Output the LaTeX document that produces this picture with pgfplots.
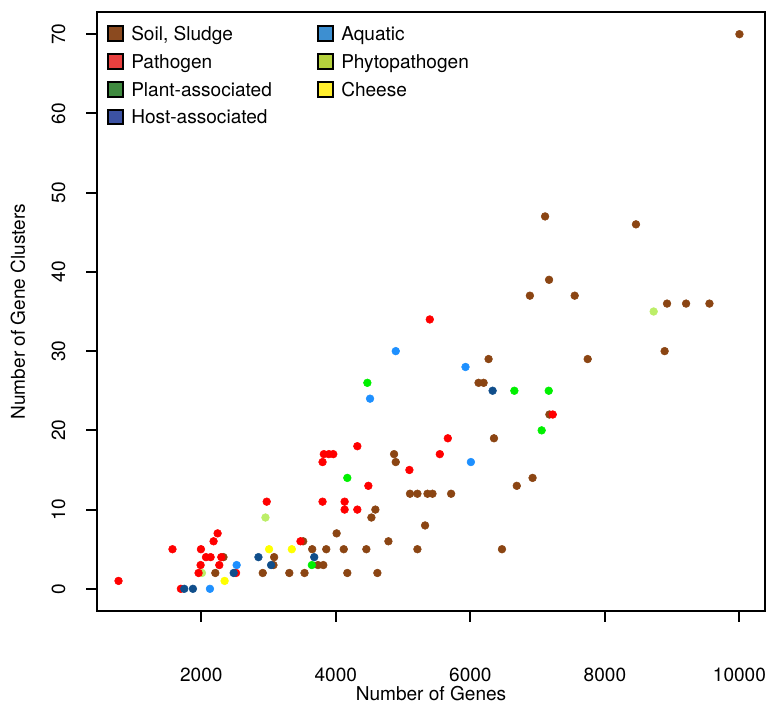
\documentclass[border=0pt]{standalone}
\usepackage{fontspec}
\setmainfont{TeX Gyre Heros}
\usepackage{pgfplots}
\pgfplotsset{compat=1.18}
\usetikzlibrary{calc}

% point colours
\definecolor{soil}{HTML}{8B4513}
\definecolor{patho}{HTML}{FF0000}
\definecolor{plant}{HTML}{00F000}
\definecolor{host}{HTML}{104E8B}
\definecolor{aqua}{HTML}{1E90FF}
\definecolor{phyto}{HTML}{BCEE68}
\definecolor{cheese}{HTML}{FFFF00}
% legend colours
\definecolor{lsoil}{HTML}{8B4A1F}
\definecolor{lpatho}{HTML}{E8403F}
\definecolor{lplant}{HTML}{3F8A3F}
\definecolor{lhost}{HTML}{3C52A3}
\definecolor{laqua}{HTML}{3D8FD1}
\definecolor{lphyto}{HTML}{B6D23D}
\definecolor{lcheese}{HTML}{FFEE2E}

\newcommand{\rfont}{\fontsize{14.3}{16}\selectfont}

\begin{document}
\begin{tikzpicture}
\begin{axis}[
    scale only axis,
    width=501pt, height=449.25pt,
    xmin=450, xmax=10380,
    ymin=-2.8, ymax=72.8,
    xtick={2000,4000,6000,8000,10000},
    ytick={0,10,...,70},
    xtick pos=bottom, ytick pos=left,
    tick align=outside,
    major tick length=8pt,
    tick style={line width=1.5pt, black},
    axis line style={line width=1.5pt},
    scaled x ticks=false,
    /pgf/number format/assume math mode=true,
    /pgf/number format/1000 sep={},
    ticklabel style={font=\rfont, inner sep=0pt},
    xticklabel style={anchor=north},
    xticklabel shift=34.5pt,
    yticklabel style={rotate=90, anchor=south},
    yticklabel shift=15.5pt,
    label style={font=\rfont, inner sep=0pt},
    xlabel={Number of Genes},
    ylabel={Number of Gene Clusters},
    xlabel style={at={(axis description cs:0.5,-0.1375)}, anchor=center},
    ylabel style={at={(axis description cs:-0.1183,0.5)}, anchor=center},
    legend columns=2,
    legend cell align=left,
    legend image code/.code={\draw[#1, line width=1.5pt] (0pt,-5.5pt) rectangle (11pt,5.5pt);},
    legend style={at={(axis description cs:0,1)}, anchor=north west,
        xshift=7.5pt, yshift=-9pt, draw=none, fill=none, inner sep=0pt,
        font=\rfont, row sep=6.85pt, column sep=0pt,
        nodes={inner sep=0pt, text height=12.15pt, text depth=1.85pt},
        /tikz/every odd column/.append style={column sep=5.5pt}},
    every axis plot/.append style={only marks, mark=*, mark size=2.9pt, forget plot},
]
\addplot[color=phyto] coordinates {
    (2010,2) (2954,9) (8725,35)
};
\addplot[color=soil] coordinates {
    (10000,70) (7111,47) (8462,46) (7170,39) (6885,37) (7551,37)
    (8924,36) (9207,36) (9554,36) (8888,30) (6271,29) (7744,29)
    (6122,26) (6197,26) (7175,22) (6351,19) (4866,17) (4891,16)
    (6925,14) (6690,13) (5103,12) (5213,12) (5363,12) (5437,12)
    (5714,12) (4588,10) (4529,9) (5327,8) (4012,7) (3515,6)
    (4782,6) (3649,5) (3858,5) (4118,5) (4454,5) (5213,5)
    (6470,5) (2330,4) (3083,4) (3073,3) (3735,3) (3814,3)
    (2209,2) (2914,2) (3309,2) (3535,2) (4171,2) (4618,2)
};
\addplot[color=patho] coordinates {
    (770,1) (1697,0) (1960,2) (2517,2) (1990,3) (2268,3)
    (2070,4) (2139,4) (2298,4) (1572,5) (1995,5) (2183,6)
    (3475,6) (2243,7) (4131,10) (4320,10) (2973,11) (3803,11)
    (4131,11) (4484,13) (5094,15) (3803,16) (3822,17) (3897,17)
    (3962,17) (5546,17) (4320,18) (5665,19) (7225,22) (5397,34)
};
\addplot[color=plant] coordinates {
    (3644,3) (4171,14) (4469,26) (6654,25) (7165,25) (7060,20)
};
\addplot[color=aqua] coordinates {
    (2129,0) (2526,3) (4509,24) (4891,30) (5928,28) (6008,16)
};
\addplot[color=host] coordinates {
    (1747,0) (1876,0) (2482,2) (3038,3) (2850,4) (3679,4) (6331,25)
};
\addplot[color=cheese] coordinates {
    (2347,1) (3008,5) (3346,5)
};

\addlegendimage{draw=black, fill=lsoil}
\addlegendentry{\makebox[139.5pt][l]{Soil, Sludge}}
\addlegendimage{draw=black, fill=laqua}
\addlegendentry{Aquatic}
\addlegendimage{draw=black, fill=lpatho}
\addlegendentry{\makebox[139.5pt][l]{Pathogen}}
\addlegendimage{draw=black, fill=lphyto}
\addlegendentry{Phytopathogen}
\addlegendimage{draw=black, fill=lplant}
\addlegendentry{\makebox[139.5pt][l]{Plant-associated}}
\addlegendimage{draw=black, fill=lcheese}
\addlegendentry{Cheese}
\addlegendimage{draw=black, fill=lhost}
\addlegendentry{\makebox[139.5pt][l]{Host-associated}}
\end{axis}
\pgfresetboundingbox
\path ($(current axis.south west)+(-72.75pt,-69pt)$) rectangle ($(current axis.north east)+(1.5pt,9pt)$);
\end{tikzpicture}
\end{document}
